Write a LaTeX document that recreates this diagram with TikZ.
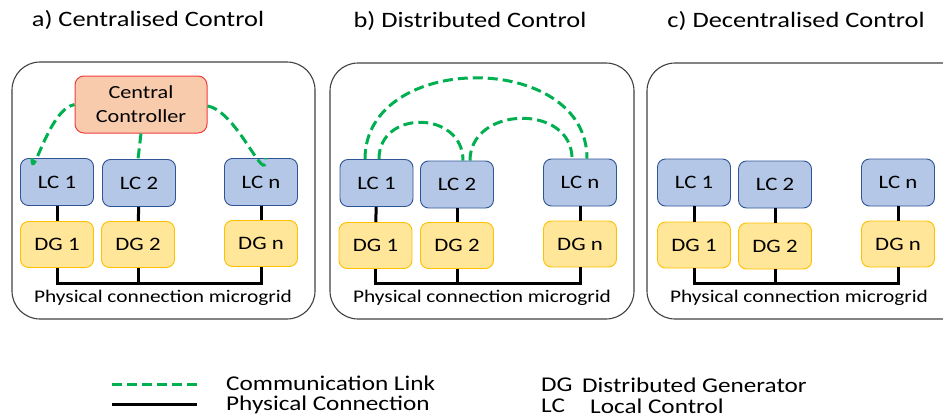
\documentclass[tikz,border=0pt]{standalone}
\usepackage{fontspec}
\setmainfont[FakeStretch=1.2]{Carlito}
\usetikzlibrary{calc}
\definecolor{lcfill}{HTML}{B4C7E7}
\definecolor{lcdraw}{HTML}{2F5597}
\definecolor{dgfill}{HTML}{FFE699}
\definecolor{dgdraw}{HTML}{FFC000}
\definecolor{ccfill}{HTML}{F8CBAD}
\definecolor{ccdraw}{HTML}{F03C3C}
\definecolor{comgreen}{HTML}{00B050}
\definecolor{boxgray}{HTML}{404040}
\tikzset{
  panel/.style={draw=boxgray, line width=1.1pt, rounded corners=28pt},
  lcbox/.style={draw=lcdraw, fill=lcfill, line width=0.9pt, rounded corners=8pt, minimum width=73pt, minimum height=47pt, inner sep=0pt, font=\fontsize{19}{22}\selectfont},
  dgbox/.style={draw=dgdraw, fill=dgfill, line width=0.9pt, rounded corners=8pt, minimum width=73pt, minimum height=46pt, inner sep=0pt, font=\fontsize{19}{22}\selectfont},
  ccbox/.style={draw=ccdraw, fill=ccfill, line width=1pt, rounded corners=9pt, minimum width=132pt, minimum height=57pt, inner sep=0pt, align=center, font=\fontsize{18.5}{24}\selectfont},
  comm/.style={draw=comgreen, line width=3pt, dash pattern=on 10pt off 5pt},
  phys/.style={draw=black, line width=3pt},
  title/.style={font=\fontsize{22}{26}\selectfont},
  gridtext/.style={font=\fontsize{17.8}{20}\selectfont},
  legtext/.style={font=\fontsize{21}{24}\selectfont, anchor=west, inner sep=0pt}
}
\begin{document}
\begin{tikzpicture}[x=1pt,y=-1pt]
\useasboundingbox (0,0) rectangle (943,418);
\begin{scope}
\clip (0,0) rectangle (943,418);
% panels
\draw[panel] (12,62) rectangle (315,319);
\draw[panel] (330,63) rectangle (634,319);
\draw[panel] (647,63) rectangle (975,319);
\end{scope}
% titles
\node[title] (ta) at (148,20) {a) Centralised Control};
\node[title] (tb) at (470,21) {b) Distributed Control};
\node[title] (tc) at (796,21) {c) Decentralised Control};

% ---------- panel a ----------
\node[ccbox] (cc) at (141,104.5) {Central\\Controller};
\node[lcbox] (lc1a) at (57,182) {LC 1};
\node[lcbox] (lc2a) at (139,183) {LC 2};
\node[lcbox] (lcna) at (261,182) {LC n};
\node[dgbox] (dg1a) at (57,244.5) {DG 1};
\node[dgbox] (dg2a) at (138,244.5) {DG 2};
\node[dgbox] (dgna) at (261,243.5) {DG n};
\coordinate (busa) at (0,283);
\draw[phys] (lc1a) -- (dg1a);
\draw[phys] (lc2a) -- (dg2a);
\draw[phys] (lcna) -- (dgna);
\draw[phys] (dg1a.south) -- (dg1a.south |- busa) -| (dgna.south);
\draw[phys] (dg2a.south) -- (dg2a.south |- busa);
\draw[comm] ([xshift=-25pt]lc1a.north) to[out=-90,in=190] ([yshift=0pt]cc.west);
\draw[comm] (cc.south) -- ([xshift=-1pt]lc2a.north);
\draw[comm] ([yshift=-1.5pt]cc.east) to[out=-10,in=-90] ([xshift=5pt]lcna.north);
\node[gridtext] (pa) at (163,298) {Physical connection microgrid};

% ---------- panel b ----------
\node[lcbox] (lc1b) at (376.5,183) {LC 1};
\node[lcbox] (lc2b) at (457,184.5) {LC 2};
\node[lcbox] (lcnb) at (580,182.5) {LC n};
\node[dgbox] (dg1b) at (375.5,245.5) {DG 1};
\node[dgbox] (dg2b) at (457,245.5) {DG 2};
\node[dgbox] (dgnb) at (580,244) {DG n};
\coordinate (busb) at (0,283);
\draw[phys] (lc1b) -- (dg1b);
\draw[phys] (lc2b) -- (dg2b);
\draw[phys] (lcnb) -- (dgnb);
\draw[phys] (dg1b.south) -- (dg1b.south |- busb) -| (dgnb.south);
\draw[phys] (dg2b.south) -- (dg2b.south |- busb);
\draw[comm] ([xshift=-11.5pt]lc1b.north) .. controls +(0,-108) and +(0,-108) .. ([xshift=7pt]lcnb.north);
\draw[comm] ([xshift=2.5pt]lc1b.north) .. controls +(0,-50) and +(0,-50) .. ([xshift=6pt]lc2b.north);
\draw[comm] ([xshift=13pt]lc2b.north) .. controls +(0,-55) and +(0,-55) .. ([xshift=-8pt]lcnb.north);
\node[gridtext] (pb) at (482,298) {Physical connection microgrid};

% ---------- panel c ----------
\node[lcbox] (lc1c) at (694,182.5) {LC 1};
\node[lcbox] (lc2c) at (775,184.5) {LC 2};
\node[lcbox] (lcnc) at (898,182.5) {LC n};
\node[dgbox] (dg1c) at (694,245) {DG 1};
\node[dgbox] (dg2c) at (775,246) {DG 2};
\node[dgbox] (dgnc) at (898,244) {DG n};
\coordinate (busc) at (0,283);
\draw[phys] (lc1c) -- (dg1c);
\draw[phys] (lc2c) -- (dg2c);
\draw[phys] (lcnc) -- (dgnc);
\draw[phys] (dg1c.south) -- (dg1c.south |- busc) -| (dgnc.south);
\draw[phys] (dg2c.south) -- (dg2c.south |- busc);
\node[gridtext] (pc) at (799,298) {Physical connection microgrid};

% ---------- legend ----------
\coordinate (lg1s) at (112,384);
\coordinate (lg1e) at (197,384);
\coordinate (lg2s) at (112,404);
\coordinate (lg2e) at (197,404);
\draw[comm] (lg1s) -- (lg1e);
\draw[phys] (lg2s) -- (lg2e);
\node[legtext] (lcom) at (226,383) {Communication Link};
\node[legtext] (lphy) at (226,405) {Physical Connection};
\node[legtext] (ldg) at (541,385) {DG};
\node[legtext] (ldgt) at (582,385) {Distributed Generator};
\node[legtext] (llc) at (541,406) {LC};
\node[legtext] (llct) at (590,406) {Local Control};
\end{tikzpicture}
\end{document}
